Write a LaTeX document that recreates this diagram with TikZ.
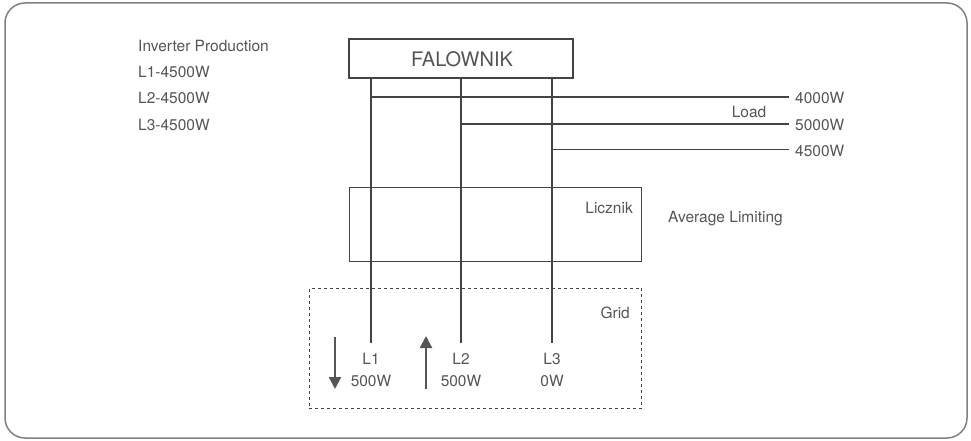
\documentclass[tikz,border=0pt]{standalone}
\usepackage{fontspec}
\setmainfont{TeX Gyre Heros}
\usetikzlibrary{arrows.meta}
\definecolor{txt}{HTML}{555555}
\definecolor{ln}{HTML}{444444}
\definecolor{frame}{HTML}{808080}
\begin{document}
\begin{tikzpicture}[x=1pt,y=-1pt,
  lbl/.style={text=txt,font=\fontsize{15.5}{17}\selectfont,inner sep=0pt},
  wire/.style={draw=ln,line width=1.1pt},
  boxst/.style={draw=ln,line width=1.1pt,rectangle,inner sep=0pt},
  flow/.style={draw=txt,line width=2.2pt,-{Triangle[width=12pt,length=12pt]}}]
\useasboundingbox (0,0) rectangle (971,441);
\draw[frame,line width=1.5pt,rounded corners=20pt] (5,3) rectangle (967,438);
% left texts
\node[lbl,anchor=west] (ip) at (138,46) {Inverter Production};
\node[lbl,anchor=west] (p1) at (138,72) {L1-4500W};
\node[lbl,anchor=west] (p2) at (138,98) {L2-4500W};
\node[lbl,anchor=west] (p3) at (138,125) {L3-4500W};
% inverter
\node[boxst,minimum width=224pt,minimum height=39pt] (inv) at (461,58.5) {};
\node[text=txt,font=\fontsize{20}{22}\selectfont,inner sep=0pt] (invt) at (462,59) {FALOWNIK};
% meter and grid boxes
\node[boxst,minimum width=292.5pt,minimum height=74.5pt] (meter) at (495.5,224.5) {};
\node[lbl,anchor=north east] (mt) at (633,202) {Licznik};
\node[lbl,anchor=west] (avg) at (668,219) {Average Limiting};
\node[rectangle,draw=ln,dashed,line width=0.9pt,minimum width=332.5pt,minimum height=120.5pt,inner sep=0pt] (grid) at (475.5,348.5) {};
\node[lbl,anchor=east] (gt) at (630,313) {Grid};
% phase coordinates
\coordinate (t1) at (371,78);
\coordinate (t2) at (461,78);
\coordinate (t3) at (552,78);
\coordinate (b1) at (371,343);
\coordinate (b2) at (461,343);
\coordinate (b3) at (552,343);
\coordinate (j1) at (371,97);
\coordinate (j2) at (461,124);
\coordinate (j3) at (552,149.5);
\coordinate (e1) at (789,97);
\coordinate (e2) at (789,124);
\coordinate (e3) at (789,149.5);
\draw[wire] (t1) -- (b1);
\draw[wire] (t2) -- (b2);
\draw[wire] (t3) -- (b3);
\draw[wire] (j1) -- (e1);
\draw[wire] (j2) -- (e2);
\draw[wire] (j3) -- (e3);
\node[lbl,anchor=west] (w1) at (795,97.5) {4000W};
\node[lbl,anchor=west] (w2) at (795,124.5) {5000W};
\node[lbl,anchor=west] (w3) at (795,150.5) {4500W};
\node[lbl] (load) at (749,111.5) {Load};
% grid labels
\node[lbl] (g1) at (371,359) {L1};
\node[lbl] (g1w) at (371,381) {500W};
\node[lbl] (g2) at (461,359) {L2};
\node[lbl] (g2w) at (461,381) {500W};
\node[lbl] (g3) at (552,359) {L3};
\node[lbl] (g3w) at (552,381) {0W};
\coordinate (a1s) at (335,337);
\coordinate (a1e) at (335,389);
\coordinate (a2s) at (426,389);
\coordinate (a2e) at (426,336);
\draw[flow] (a1s) -- (a1e);
\draw[flow] (a2s) -- (a2e);
\end{tikzpicture}
\end{document}
